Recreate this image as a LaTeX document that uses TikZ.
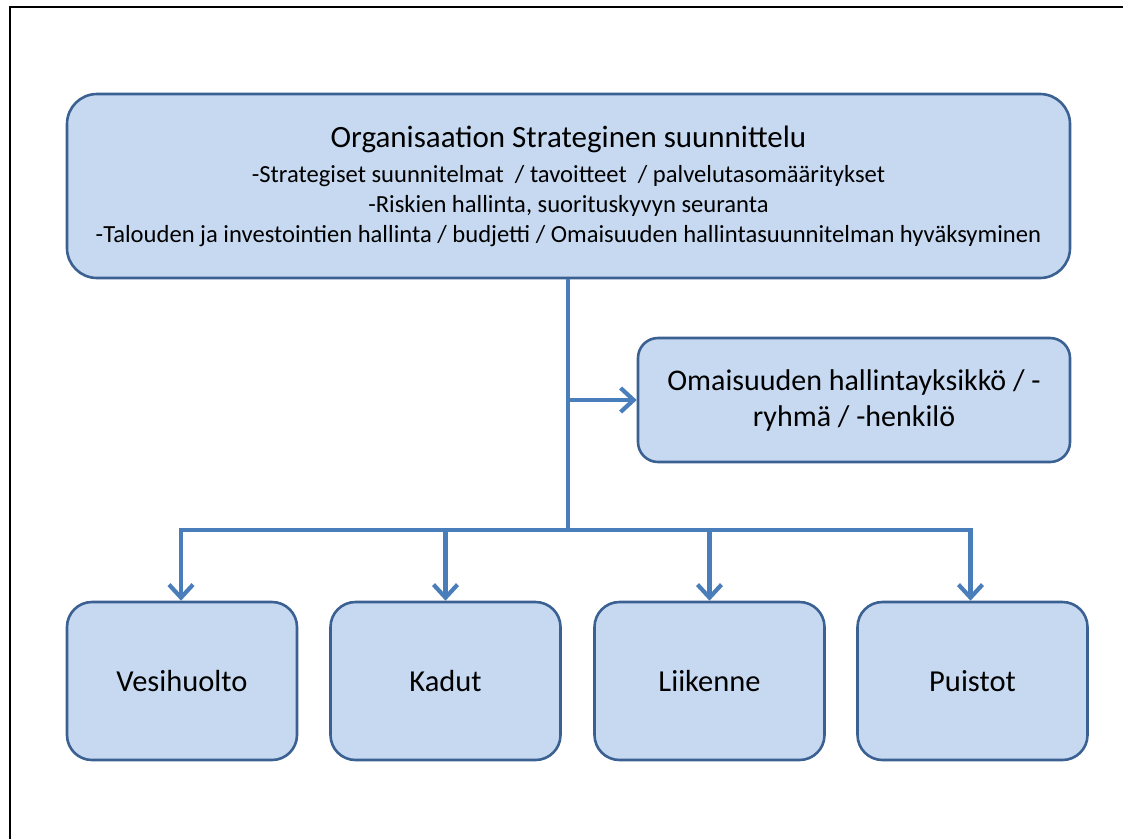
\documentclass[tikz,border=0pt]{standalone}
\usepackage{fontspec}
\setmainfont{Carlito}
\usetikzlibrary{arrows.meta}
\definecolor{boxfill}{HTML}{C6D9F1}
\definecolor{boxline}{HTML}{3B6092}
\definecolor{linkblue}{HTML}{4A7EBB}
\tikzset{
  card/.style={draw=boxline, fill=boxfill, line width=2.6pt, rectangle,
    align=center, text=black, inner sep=0pt},
  link/.style={draw=linkblue, line width=4.2pt},
  linkarrow/.style={link, -{Straight Barb[length=13pt, width=24pt, line width=4.2pt]}},
}
\begin{document}
\begin{tikzpicture}[x=1pt, y=-1pt]
  \useasboundingbox (0,0) rectangle (1123,839);
  % page frame (left and top edges)
  \draw[line width=2pt] (9.5,839) -- (9.5,6.5) -- (1123,6.5);

  % strategic planning box
  \node[card, rounded corners=30pt, minimum width=1003pt, minimum height=184pt,
        font=\fontsize{24.6}{30}\selectfont]
    (main) at (568.5,186)
    {{\fontsize{31}{30}\selectfont Organisaation Strateginen suunnittelu}\\[5pt]
     -Strategiset suunnitelmat~ / tavoitteet~ / palvelutasomääritykset\\
     -Riskien hallinta, suorituskyvyn seuranta\\
     -Talouden ja investointien hallinta / budjetti / Omaisuuden hallintasuunnitelman hyväksyminen};

  % asset management unit
  \node[card, rounded corners=20pt, minimum width=432pt, minimum height=124pt,
        font=\fontsize{30}{36}\selectfont]
    (unit) at (854,400) {Omaisuuden hallintayksikkö / -\\ryhmä / -henkilö};

  % service areas
  \tikzset{area/.style={card, rounded corners=25pt, minimum width=230pt,
      minimum height=158pt, font=\fontsize{30.5}{36}\selectfont}}
  \node[area] (vesi) at (182,681) {Vesihuolto};
  \node[area] (kadut) at (445.5,681) {Kadut};
  \node[area] (liik) at (709.5,681) {Liikenne};
  \node[area] (puis) at (972.5,681) {Puistot};

  % connectors
  \coordinate (hub) at (568,530);
  \draw[link] (main.south -| hub) -- (hub);
  \draw[linkarrow] (unit.west -| hub) -- (unit.west);
  \draw[linkarrow] (hub) -| ([xshift=-1pt]vesi.north);
  \draw[linkarrow] (hub) -| (kadut.north);
  \draw[linkarrow] (hub) -| (liik.north);
  \draw[linkarrow] (hub) -| ([xshift=-2pt]puis.north);
\end{tikzpicture}
\end{document}
